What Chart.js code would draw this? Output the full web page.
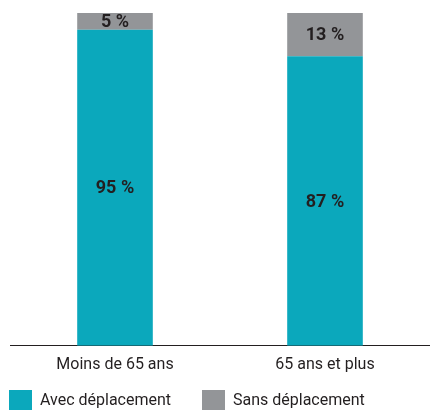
<!DOCTYPE html>
<html>
<head>
<meta charset="utf-8">
<script src="https://cdn.jsdelivr.net/npm/chart.js@4/dist/chart.umd.min.js"></script>
<style>
  html, body { margin: 0; padding: 0; background: #fff; }
  #wrap { width: 430px; height: 410px; }
</style>
</head>
<body>
<div id="wrap"><canvas id="chart"></canvas></div>
<script>
var categories = ['Moins de 65 ans', '65 ans et plus'];
var avec = [95, 87];
var sans = [5, 13];
var seriesNames = ['Avec déplacement', 'Sans déplacement'];
var seriesColors = ['#0ba8bc', '#939598'];

// étiquettes "xx %" au centre de chaque segment
var valueLabels = {
  id: 'valueLabels',
  afterDatasetsDraw: function(chart) {
    var ctx = chart.ctx;
    ctx.save();
    ctx.font = 'bold 18px Roboto';
    ctx.fillStyle = '#231f20';
    ctx.textAlign = 'center';
    ctx.textBaseline = 'middle';
    chart.data.datasets.forEach(function(ds, i) {
      chart.getDatasetMeta(i).data.forEach(function(bar, j) {
        var mid = (bar.y + bar.base) / 2;
        ctx.fillText(ds.data[j] + ' %', bar.x, mid + 1);
      });
    });
    ctx.restore();
  }
};

// légende dessinée à la main, alignée à gauche sous l'axe
var bottomLegend = {
  id: 'bottomLegend',
  afterDraw: function(chart) {
    var ctx = chart.ctx;
    var xs = [9, 202];
    ctx.save();
    ctx.font = '16px Roboto';
    ctx.textBaseline = 'middle';
    chart.data.datasets.forEach(function(ds, i) {
      ctx.fillStyle = ds.backgroundColor;
      ctx.fillRect(xs[i], 390, 23, 20);
      ctx.fillStyle = '#231f20';
      ctx.fillText(ds.label, xs[i] + 31, 401);
    });
    ctx.restore();
  }
};

new Chart(document.getElementById('chart'), {
  type: 'bar',
  data: {
    labels: categories,
    datasets: [
      { label: seriesNames[0], data: avec, backgroundColor: seriesColors[0] },
      { label: seriesNames[1], data: sans, backgroundColor: seriesColors[1] }
    ]
  },
  plugins: [valueLabels, bottomLegend],
  options: {
    responsive: true,
    maintainAspectRatio: false,
    animation: false,
    layout: { padding: { left: 10, right: 0, top: 13, bottom: 33 } },
    datasets: { bar: { categoryPercentage: 1, barPercentage: 0.36 } },
    scales: {
      x: {
        stacked: true,
        grid: { display: false },
        border: { display: true, color: '#231f20', width: 1 },
        ticks: { color: '#231f20', font: { family: 'Roboto', size: 16 }, padding: 2 }
      },
      y: {
        stacked: true,
        display: false,
        min: 0,
        max: 100
      }
    },
    plugins: {
      tooltip: { enabled: false },
      legend: { display: false }
    }
  }
});
</script>
</body>
</html>
